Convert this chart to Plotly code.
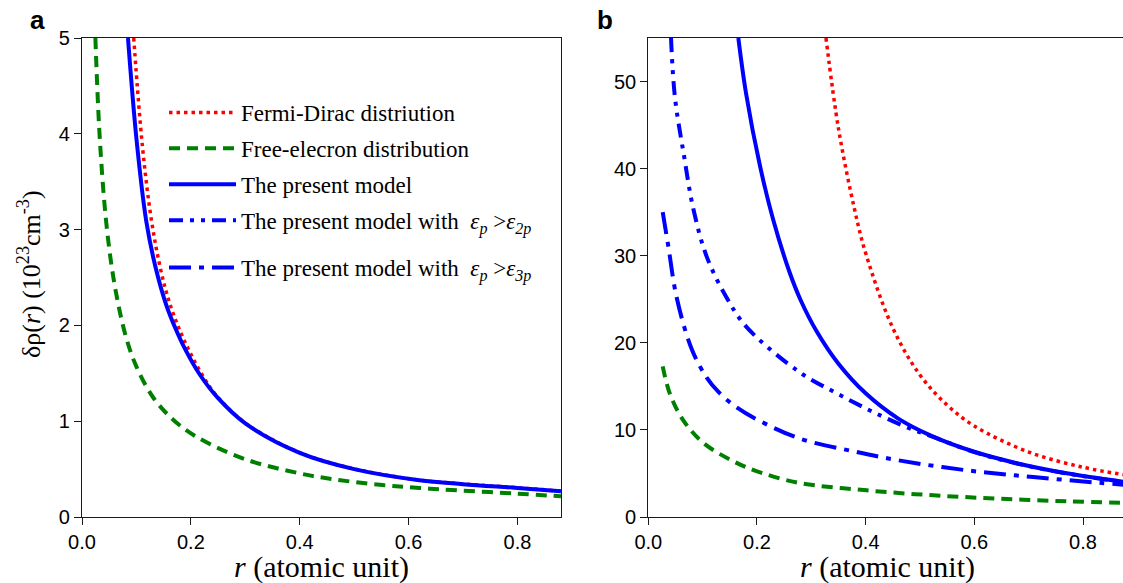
import plotly.graph_objects as go

# ---------------- data ----------------
# Panel a
a_fd_r = [0.095, 0.111, 0.1275, 0.145, 0.160, 0.1795, 0.200, 0.225, 0.250, 0.300, 0.400, 0.500, 0.620, 0.700, 0.800, 0.880]
a_fd_v = [5.00, 3.87, 3.10, 2.57, 2.25, 1.95, 1.70, 1.444, 1.248, 0.98, 0.672, 0.502, 0.385, 0.345, 0.305, 0.271]

a_fe_r = [0.0246, 0.0325, 0.0448, 0.060, 0.0803, 0.100, 0.1305, 0.167, 0.210, 0.300, 0.400, 0.461, 0.552, 0.620, 0.6925, 0.800, 0.880]
a_fe_v = [5.00, 3.97, 3.06, 2.42, 1.89, 1.57, 1.25, 1.018, 0.838, 0.603, 0.455, 0.395, 0.333, 0.303, 0.277, 0.244, 0.216]

a_pm_r = [0.0845, 0.100, 0.118, 0.135, 0.155, 0.172, 0.189, 0.216, 0.250, 0.300, 0.400, 0.500, 0.620, 0.700, 0.800, 0.880]
a_pm_v = [5.00, 3.95, 3.09, 2.61, 2.21, 1.965, 1.757, 1.49, 1.24, 0.977, 0.67, 0.50, 0.384, 0.343, 0.303, 0.269]

# Panel b
b_fd_r = [0.327, 0.350, 0.380, 0.400, 0.450, 0.500, 0.550, 0.600, 0.700, 0.800, 0.880]
b_fd_v = [55.0, 44.6, 35.2, 30.3, 21.7, 16.3, 12.85, 10.45, 7.46, 5.71, 4.81]

b_fe_r = [0.0265, 0.040, 0.0644, 0.101, 0.1564, 0.2056, 0.279, 0.402, 0.5245, 0.647, 0.770, 0.880]
b_fe_v = [17.3, 14.1, 11.1, 8.53, 6.4, 5.13, 3.9, 3.06, 2.49, 2.1, 1.8, 1.62]

b_pm_r = [0.1657, 0.180, 0.2056, 0.230, 0.260, 0.280, 0.310, 0.350, 0.400, 0.460, 0.520, 0.600, 0.680, 0.770, 0.880]
b_pm_v = [55.0, 48.6, 40.3, 34.1, 28.1, 24.95, 21.3, 17.6, 14.2, 11.3, 9.35, 7.49, 6.15, 5.02, 4.0]

b_p2_r = [0.0418, 0.049, 0.0659, 0.0828, 0.1075, 0.144, 0.181, 0.279, 0.347, 0.414, 0.480, 0.520, 0.600, 0.680, 0.770, 0.880]
b_p2_v = [55.0, 48.2, 41.4, 35.4, 29.9, 25.2, 21.8, 16.6, 14.2, 12.05, 10.2, 9.3, 7.45, 6.12, 5.0, 3.98]

b_p3_r = [0.0265, 0.0368, 0.0522, 0.0798, 0.1075, 0.130, 0.160, 0.200, 0.279, 0.377, 0.461, 0.586, 0.7085, 0.831, 0.880]
b_p3_v = [35.0, 31.1, 25.2, 19.3, 16.0, 14.3, 12.7, 11.2, 9.0, 7.55, 6.5, 5.36, 4.59, 3.92, 3.68]

names = [
    "Fermi-Dirac distriution",
    "Free-elecron distribution",
    "The present model",
    "The present model with &nbsp;<i>ε<sub>p</sub></i> &gt;<i>ε<sub>2p</sub></i>",
    "The present model with &nbsp;<i>ε<sub>p</sub></i> &gt;<i>ε<sub>3p</sub></i>",
]

x_ticks = [0.0, 0.2, 0.4, 0.6, 0.8]
x_ticktext = ["0.0", "0.2", "0.4", "0.6", "0.8"]
a_yticks = [0, 1, 2, 3, 4, 5]
b_yticks = [0, 10, 20, 30, 40, 50]

# ---------------- styles ----------------
RED, GREEN, BLUE = "#FF0000", "#008000", "#0000FF"
styles = [
    dict(color=RED, width=3.5, dash="3.5px,4px"),
    dict(color=GREEN, width=4, dash="11px,7px"),
    dict(color=BLUE, width=4, dash="solid"),
    dict(color=BLUE, width=4, dash="14px,7px,4px,7px,4px,7px"),
    dict(color=BLUE, width=4, dash="22px,8px,5px,8px"),
]

W, H = 1123, 583
ML, MR, MT, MB = 82, 0, 38, 66
PW, PH = W - ML - MR, H - MT - MB


def px(x):
    return (x - ML) / PW


def py(y):
    return 1 - (y - MT) / PH


fig = go.Figure()

a_series = [(a_fd_r, a_fd_v), (a_fe_r, a_fe_v), (a_pm_r, a_pm_v)]
for i, (r, v) in enumerate(a_series):
    fig.add_trace(go.Scatter(x=r, y=v, mode="lines", name=names[i], line=styles[i],
                             line_shape="spline", legendgroup=f"g{i}",
                             xaxis="x", yaxis="y"))
b_series = [(b_fd_r, b_fd_v), (b_fe_r, b_fe_v), (b_pm_r, b_pm_v), (b_p2_r, b_p2_v), (b_p3_r, b_p3_v)]
for i, (r, v) in enumerate(b_series):
    fig.add_trace(go.Scatter(x=r, y=v, mode="lines", name=names[i], line=styles[i],
                             line_shape="spline", legendgroup=f"g{i}",
                             showlegend=(i >= 3), legend=("legend2" if i == 4 else "legend"),
                             xaxis="x2", yaxis="y2"))

dom_a = [0, px(561)]
dom_b = [px(648.3), 1]

tickfont = dict(family="Liberation Sans, Arial", size=20, color="#000")
axcommon = dict(showgrid=False, zeroline=False, showline=True, linecolor="#1a1a1a",
                linewidth=1.3, ticks="outside", ticklen=7, tickwidth=1.3,
                tickcolor="#1a1a1a", tickfont=tickfont, automargin=False)
mirror_ticks = dict(showticklabels=False, ticks="outside", ticklen=3, tickwidth=1.3,
                    tickcolor="#1a1a1a", showgrid=False, zeroline=False, showline=False,
                    automargin=False)

legfont = dict(family="Liberation Serif, Times New Roman", size=23, color="#000")

fig.update_layout(
    width=W, height=H,
    margin=dict(l=ML, r=MR, t=MT, b=MB, pad=0),
    paper_bgcolor="white", plot_bgcolor="white",
    xaxis=dict(domain=dom_a, range=[0, 0.88], tickvals=x_ticks, ticktext=x_ticktext,
               anchor="y", mirror=True, **axcommon),
    yaxis=dict(domain=[0, 1], range=[0, 5], tickvals=a_yticks, anchor="x", mirror=True, **axcommon),
    xaxis2=dict(domain=dom_b, range=[0, 0.8736], tickvals=x_ticks, ticktext=x_ticktext,
                anchor="y2", mirror=True, **axcommon),
    yaxis2=dict(domain=[0, 1], range=[0, 55], tickvals=b_yticks, anchor="x2", mirror=False, **axcommon),
    xaxis3=dict(overlaying="x", side="top", anchor="y", range=[0, 0.88], tickvals=x_ticks, **mirror_ticks),
    yaxis3=dict(overlaying="y", side="right", anchor="x", range=[0, 5], tickvals=a_yticks, **mirror_ticks),
    xaxis4=dict(overlaying="x2", side="top", anchor="y2", range=[0, 0.8736], tickvals=x_ticks, **mirror_ticks),
    showlegend=True,
    legend=dict(x=px(164), y=py(91), xanchor="left", yanchor="top",
                bgcolor="rgba(0,0,0,0)", borderwidth=0, font=legfont,
                itemwidth=67, tracegroupgap=3, traceorder="grouped"),
    legend2=dict(x=px(164), y=py(246), xanchor="left", yanchor="top",
                 bgcolor="rgba(0,0,0,0)", borderwidth=0, font=legfont,
                 itemwidth=67, traceorder="normal"),
)

serif = "Liberation Serif, Times New Roman"
ann = [
    dict(text="<b>a</b>", x=px(37), y=py(20), xanchor="center", yanchor="middle",
         font=dict(family="Liberation Sans, Arial", size=26, color="#000")),
    dict(text="<b>b</b>", x=px(604.5), y=py(20), xanchor="center", yanchor="middle",
         font=dict(family="Liberation Sans, Arial", size=26, color="#000")),
    dict(text="<i>r</i> (atomic unit)", x=px(321.6), y=py(567), xanchor="center", yanchor="middle",
         font=dict(family=serif, size=30, color="#000")),
    dict(text="<i>r</i> (atomic unit)", x=px(887.6), y=py(567), xanchor="center", yanchor="middle",
         font=dict(family=serif, size=30, color="#000")),
    dict(text="δρ(<i>r</i>) (10<sup>23</sup>cm<sup>-3</sup>)", x=px(29), y=py(274), textangle=-90,
         xanchor="center", yanchor="middle",
         font=dict(family=serif, size=26, color="#000")),
]
for a in ann:
    a.update(xref="paper", yref="paper", showarrow=False)
fig.update_layout(annotations=ann)

fig.write_html("out.html", config={"displayModeBar": False},
               post_script="document.body.style.margin='0px';")
